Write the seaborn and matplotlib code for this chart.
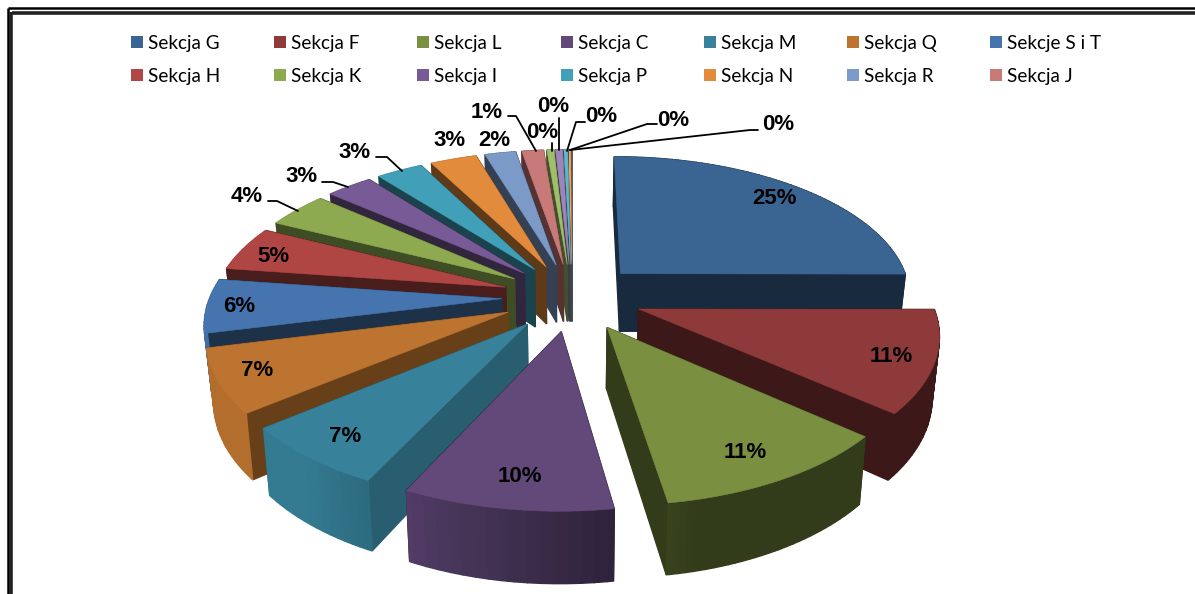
import numpy as np
import matplotlib
matplotlib.use('Agg')
import matplotlib.pyplot as plt
from matplotlib.colors import to_rgb
from matplotlib.patches import Polygon, Rectangle
from matplotlib.transforms import Affine2D
import seaborn as sns

# Data
sections = ['Sekcja G', 'Sekcja F', 'Sekcja L', 'Sekcja C', 'Sekcja M', 'Sekcja Q', 'Sekcje S i T',
            'Sekcja H', 'Sekcja K', 'Sekcja I', 'Sekcja P', 'Sekcja N', 'Sekcja R', 'Sekcja J']
shares = [25, 11.25, 11.2, 9.6, 7, 7, 6, 5, 4, 3, 3, 3, 2, 1.4, 0.45, 0.45, 0.25, 0.15, 0.05]
share_labels = ['25%', '11%', '11%', '10%', '7%', '7%', '6%', '5%', '4%', '3%', '3%', '3%', '2%', '1%',
                '0%', '0%', '0%', '0%', '0%']
slice_colors = ['#3A6592', '#8F3A3A', '#7A8F3F', '#62497A', '#37829A', '#BC7430', '#4674AE',
                '#B04644', '#8DAA50', '#775A96', '#41A0B8', '#E38B3C', '#7C9AC7', '#C77A78',
                '#A0BF6A', '#9C86B8', '#5FB5CC', '#F5A45C', '#9DB5DA']
# how dark the cut faces of each slice are
cut_shade = [0.42, 0.42, 0.42, 0.42, 0.72, 0.55, 0.42, 0.42, 0.45, 0.42, 0.42, 0.42, 0.42, 0.42,
             0.42, 0.42, 0.42, 0.42, 0.42]

# Label places in pixels, leaders as elbow lines
label_xy = [(775, 199), (891, 356), (745, 452), (520, 476), (345, 436), (257, 370), (239, 307),
            (273, 256), (247, 196), (302, 176), (355, 152), (450, 140), (494, 140), (487, 112),
            (542, 133), (553, 107), (601, 117), (673, 120), (778, 124)]
leaders = [[(268, 201), (277, 201), (298, 211)],
           [(322, 182), (333, 182), (348, 187)],
           [(376, 157), (387, 157), (402, 171)],
           [(508, 116), (516, 116), (536, 151)],
           [(552, 143), (552, 151)],
           [(559, 118), (559, 150)],
           [(585, 122), (576, 122), (567, 151)],
           [(657, 124), (647, 124), (570, 150)],
           [(758, 130), (750, 130), (570, 150)]]

# Pie geometry in pixels
cx, cy = 572, 297
rx, ry = 292, 141
depth = 59
persp = 0.15
explode = 0.24


def project(x, y, z=0.0):
    w = 1.0 / (1.0 + persp * y)
    return cx + rx * x * w * (1 - 0.02 * z), cy - ry * y * w + depth * w * z


def shaded(color, factor):
    return tuple(min(1, c * factor) for c in to_rgb(color))


sns.set_theme(style='white')
palette = sns.color_palette(slice_colors, n_colors=len(slice_colors))

fig = plt.figure(figsize=(11.95, 5.94), dpi=100)
ax = fig.add_axes([0, 0, 1, 1])

wedges, _ = ax.pie(shares, explode=[explode] * len(shares), startangle=90, counterclock=False, radius=1)
ax.set_aspect('auto')
ax.set_xlim(0, 1195)
ax.set_ylim(594, 0)

# Back slices first so the front ones cover them
order = sorted(range(len(wedges)), key=lambda i: -wedges[i].center[1])
for i in order:
    w = wedges[i]
    pts = w.get_path().to_polygons(Affine2D().scale(1000))[0] / 1000.0
    centre = np.array(w.center)
    w.remove()

    faces = []
    for a, b in zip(pts[:-1], pts[1:]):
        if np.allclose(a, b):
            continue
        cut = np.linalg.norm(a - centre) < 1e-3 or np.linalg.norm(b - centre) < 1e-3
        if cut:
            f = cut_shade[i]
        else:
            nx = (0.5 * (a + b) - centre)[0]
            f = np.clip(0.56 - 0.6 * nx, 0.42, 0.95)
        faces.append((0.5 * (a[1] + b[1]), a, b, f))

    for _, a, b, f in sorted(faces, key=lambda q: -q[0]):
        quad = [project(*a), project(*b), project(*b, 1.0), project(*a, 1.0)]
        col = shaded(palette[i], f)
        ax.add_patch(Polygon(quad, closed=True, facecolor=col, edgecolor=col, linewidth=1.0))

    top = [project(*p) for p in pts]
    ax.add_patch(Polygon(top, closed=True, facecolor=palette[i], edgecolor=palette[i], linewidth=0.4))

# Percent labels
for txt, (lx, ly) in zip(share_labels, label_xy):
    ax.text(lx, ly, txt, fontsize=16, fontweight='bold', family='Liberation Sans', color='black',
            ha='center', va='center')
for path in leaders:
    ax.plot([p[0] for p in path], [p[1] for p in path], color='black', lw=1.3, solid_capstyle='round')

# Legend, two rows with fixed column spacing
for n, name in enumerate(sections):
    col, row = n % 7, n // 7
    lx = 131 + 143.2 * col
    ly = 42 + 33 * row
    ax.add_patch(Rectangle((lx, ly - 6), 12, 12, facecolor=palette[n], edgecolor='none'))
    ax.text(lx + 17, ly + 1.5, name, fontsize=13.6, family='Lato', color='black', ha='left', va='center')

# Double frame at the top and on the left
ax.plot([8, 1195], [8, 8], color='black', lw=1.8, solid_capstyle='butt')
ax.plot([8, 8], [8, 594], color='black', lw=1.8, solid_capstyle='butt')
ax.plot([12, 1195], [13, 13], color='#222222', lw=2.6, solid_capstyle='butt')
ax.plot([11.5, 11.5], [12, 594], color='#222222', lw=2.6, solid_capstyle='butt')

ax.set_xticks([])
ax.set_yticks([])
sns.despine(ax=ax, left=True, bottom=True)
fig.savefig('out.png', dpi=100, facecolor='white')
